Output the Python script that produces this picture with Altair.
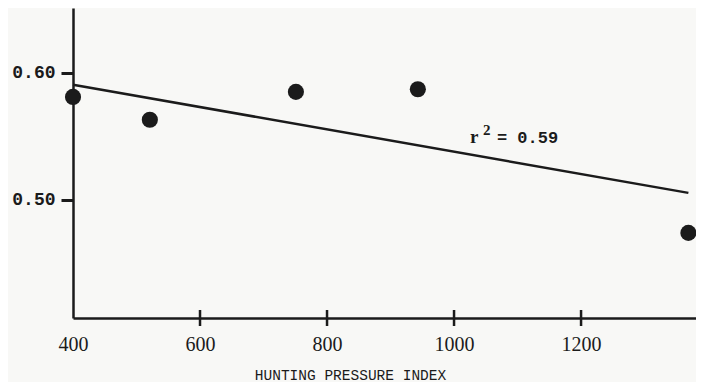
import altair as alt
import pandas as pd

# data
hpi = [400, 521, 751, 943, 1369]
ratio = [0.581, 0.563, 0.585, 0.587, 0.474]
fit_x = [400, 1369]
fit_y = [0.5906, 0.5055]
x_ticks = [400, 600, 800, 1000, 1200]
y_ticks = [0.50, 0.60]
note_x = [1025]
note_y = [0.545]

INK = "#1b1b1b"
XDOM = [400, 1381]
YDOM = [0.407, 0.651]

pts = pd.DataFrame({"hpi": hpi, "ratio": ratio})
fit = pd.DataFrame({"hpi": fit_x, "ratio": fit_y})
note = pd.DataFrame({"hpi": note_x, "ratio": note_y})
tick_df = pd.DataFrame({"hpi": x_ticks[1:], "ratio": [YDOM[0]] * len(x_ticks[1:])})

xs = alt.Scale(domain=XDOM, nice=False, zero=False)
ys = alt.Scale(domain=YDOM, nice=False, zero=False)

x_axis = alt.Axis(
    orient="bottom", values=x_ticks, format="d", grid=False, domainColor=INK, domainWidth=2.5,
    ticks=False, labelFlush=False, labelBound=False,
    labelFont="Liberation Serif", labelFontSize=20, labelColor=INK, labelPadding=16,
    title="HUNTING PRESSURE INDEX", titleFont="Liberation Mono", titleFontSize=14.5,
    titleFontWeight="normal", titleColor=INK, titlePadding=14, titleX=277,
)
y_axis = alt.Axis(
    orient="left", values=y_ticks, format=".2f", grid=False, domainColor=INK, domainWidth=2.5,
    tickColor=INK, tickWidth=3, tickSize=12,
    labelFont="Liberation Mono", labelFontWeight="bold", labelFontSize=18,
    labelColor=INK, labelPadding=6, title=None,
)

X = alt.X("hpi:Q", scale=xs, axis=x_axis)
Y = alt.Y("ratio:Q", scale=ys, axis=y_axis)

points = alt.Chart(pts).mark_circle(size=260, color=INK, opacity=1).encode(x=X, y=Y)
line = alt.Chart(fit).mark_line(color=INK, strokeWidth=2.5).encode(x=X, y=Y)
ticks = alt.Chart(tick_df).mark_tick(orient="vertical", size=16, thickness=2.5, color=INK,
                                      opacity=1).encode(x=X, y=Y)

t_r = alt.Chart(note).mark_text(text="r", fontSize=19, align="left", font="Liberation Serif",
                                fontWeight="bold", color=INK, baseline="alphabetic").encode(x=X, y=Y)
t_2 = alt.Chart(note).mark_text(text="2", fontSize=15, align="left", dx=13, dy=-8,
                                font="Liberation Serif", fontWeight="bold", color=INK,
                                baseline="alphabetic").encode(x=X, y=Y)
t_v = alt.Chart(note).mark_text(text="= 0.59", fontSize=17, align="left", dx=27, dy=0,
                                font="Liberation Mono", fontWeight="bold", color=INK,
                                baseline="alphabetic").encode(x=X, y=Y)

chart = alt.layer(points, line, ticks, t_r, t_2, t_v).properties(
    width=623, height=310,
    autosize=alt.AutoSizeParams(type="none"),
    padding={"left": 65, "top": 0, "right": 0, "bottom": 64},
    background="#f8f8f6",
).configure_view(stroke=None)

chart.save("out.html", embed_options={"renderer": "svg", "actions": False})
